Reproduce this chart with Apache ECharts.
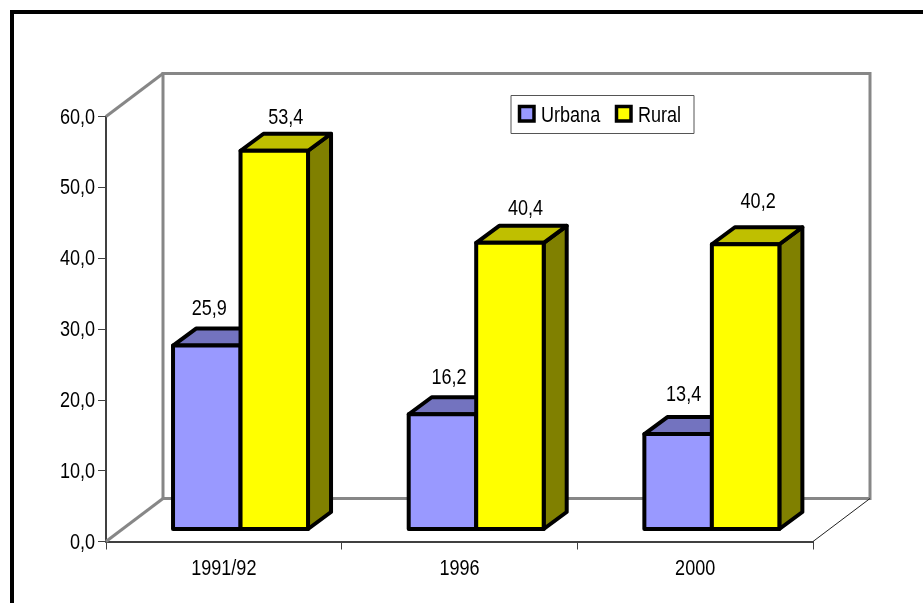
<!DOCTYPE html>
<html>
<head>
<meta charset="utf-8">
<style>
  html, body { margin: 0; padding: 0; background: #fff; }
  #chart { width: 923px; height: 603px; }
</style>
<script src="https://cdn.jsdelivr.net/npm/echarts@6/dist/echarts.min.js"></script>
</head>
<body>
<div id="chart"></div>
<script>
const categorias = ['1991/92', '1996', '2000'];
const urbana = [25.9, 16.2, 13.4];
const rural = [53.4, 40.4, 40.2];
const ticksY = [0, 10, 20, 30, 40, 50, 60];

// ajuste fino de etiquetas (en pixeles), no son datos
const ajusteUrbana = [[-9, -2], [-5, -1], [-6, -4]];
const ajusteRural = [[0, 2], [4, 1], [1, -7]];

// el original usa Arial comprimida, no hay fuente narrow instalada asi que se escala el texto
const FUENTE = '"Liberation Sans", Arial, sans-serif';
const TAM = 22;
const ESCALA = 0.82;
const ANCHO_BARRA = 67.5;
const PROF_X = 23, PROF_Y = -17;      // profundidad de la barra
const FONDO_X = 57, FONDO_Y = -43;    // profundidad de la caja
const DESP_X = 16.7, DESP_Y = -12.5;  // barra respecto al frente

const coma = (v) => v.toFixed(1).replace('.', ',');

const texto = (text, x, y, align) => ({
  type: 'text',
  x,
  y,
  scaleX: ESCALA,
  style: {
    text,
    font: TAM + 'px ' + FUENTE,
    fill: '#000',
    align,
    verticalAlign: 'middle'
  }
});

const barra3d = (lado, color, colorTop, colorLado, ajuste) => (params, api) => {
  const i = api.value(0);
  const v = api.value(1);
  const centro = api.coord([i, v]);
  const base = api.coord([i, 0]);
  const x0 = centro[0] + DESP_X + (lado === 0 ? -ANCHO_BARRA : 0);
  const x1 = x0 + ANCHO_BARRA;
  const yT = centro[1] + DESP_Y;
  const yB = base[1] + DESP_Y;
  const borde = { stroke: '#000', lineWidth: 4, lineJoin: 'round' };
  const cara = (puntos, fill) => ({
    type: 'polygon',
    shape: { points: puntos },
    style: Object.assign({ fill }, borde)
  });
  return {
    type: 'group',
    children: [
      cara([[x1, yT], [x1 + PROF_X, yT + PROF_Y], [x1 + PROF_X, yB + PROF_Y], [x1, yB]], colorLado),
      cara([[x0, yT], [x0 + PROF_X, yT + PROF_Y], [x1 + PROF_X, yT + PROF_Y], [x1, yT]], colorTop),
      cara([[x0, yT], [x1, yT], [x1, yB], [x0, yB]], color),
      texto(coma(v), (x0 + x1) / 2 + 11.5 + ajuste[i][0], yT + PROF_Y - 18 + ajuste[i][1], 'center')
    ]
  };
};

// paredes y piso de la caja, sacados de la escala de los ejes
const paredes = (params, api) => {
  const n = categorias.length;
  const a = api.coord([0, 60]);
  const b = api.coord([0, 0]);
  const ancho = api.size([1, 0])[0];
  const xI = a[0] - ancho / 2;
  const xD = xI + ancho * n;
  const yA = a[1];
  const yB = b[1];
  const gris = { stroke: '#878787', lineWidth: 3, fill: null, lineJoin: 'miter' };
  const linea = (x1, y1, x2, y2, style) => ({
    type: 'line',
    shape: { x1, y1, x2, y2 },
    style
  });
  return {
    type: 'group',
    children: [
      {
        type: 'rect',
        shape: { x: xI + FONDO_X, y: yA + FONDO_Y, width: xD - xI, height: yB - yA },
        style: gris
      },
      linea(xI, yA, xI + FONDO_X, yA + FONDO_Y, gris),
      linea(xI, yB, xI + FONDO_X, yB + FONDO_Y, gris),
      linea(xD, yB, xD + FONDO_X, yB + FONDO_Y, { stroke: '#222', lineWidth: 1 })
    ]
  };
};

const etiquetaX = (params, api) => {
  const p = api.coord([api.value(0), 0]);
  return texto(categorias[api.value(0)], p[0], p[1] + 27, 'center');
};

const etiquetaY = (params, api) => {
  const p = api.coord([0, api.value(1)]);
  return texto(coma(api.value(1)), p[0] - api.size([1, 0])[0] / 2 - 11, p[1] + 1, 'right');
};

const muestra = (x, y, fill) => ({
  type: 'rect',
  shape: { x, y, width: 14.5, height: 14.5 },
  style: { fill, stroke: '#000', lineWidth: 3.5 }
});

const chart = echarts.init(document.getElementById('chart'), null, { renderer: 'canvas' });

chart.setOption({
  animation: false,
  backgroundColor: '#fff',
  graphic: [
    {
      type: 'rect',
      silent: true,
      z: -1,
      shape: { x: 12, y: 12, width: 1000, height: 700 },
      style: { fill: null, stroke: '#000', lineWidth: 4 }
    },
    {
      type: 'group',
      silent: true,
      z: 10,
      children: [
        {
          type: 'rect',
          shape: { x: 511, y: 95.5, width: 183, height: 38 },
          style: { fill: '#fff', stroke: '#555', lineWidth: 1 }
        },
        muestra(519.5, 106.5, '#9999ff'),
        texto('Urbana', 541, 116, 'left'),
        muestra(616.5, 106.5, '#ffff00'),
        texto('Rural', 638, 116, 'left')
      ]
    }
  ],
  grid: { left: 106, top: 116.5, width: 707, height: 425 },
  xAxis: {
    type: 'category',
    data: categorias,
    axisLine: { lineStyle: { color: '#404040', width: 2 } },
    axisTick: { show: true, length: 8, lineStyle: { color: '#404040', width: 1 } },
    axisLabel: { show: false }
  },
  yAxis: {
    type: 'value',
    min: 0,
    max: 60,
    interval: 10,
    splitLine: { show: false },
    axisLine: { show: true, lineStyle: { color: '#404040', width: 2 } },
    axisTick: { show: true, length: 8, lineStyle: { color: '#404040', width: 1 } },
    axisLabel: { show: false }
  },
  series: [
    {
      name: 'caja',
      type: 'custom',
      z: 1,
      silent: true,
      renderItem: paredes,
      data: [[0, 0]],
      encode: { x: 0, y: 1 }
    },
    {
      name: 'Urbana',
      type: 'custom',
      z: 3,
      renderItem: barra3d(0, '#9999ff', '#7373bf', '#4d4d80', ajusteUrbana),
      data: urbana.map((v, i) => [i, v]),
      encode: { x: 0, y: 1 }
    },
    {
      name: 'Rural',
      type: 'custom',
      z: 4,
      renderItem: barra3d(1, '#ffff00', '#bfbf00', '#808000', ajusteRural),
      data: rural.map((v, i) => [i, v]),
      encode: { x: 0, y: 1 }
    },
    {
      name: 'etiquetasX',
      type: 'custom',
      z: 5,
      silent: true,
      renderItem: etiquetaX,
      data: categorias.map((c, i) => [i, 0]),
      encode: { x: 0, y: 1 }
    },
    {
      name: 'etiquetasY',
      type: 'custom',
      z: 5,
      silent: true,
      renderItem: etiquetaY,
      data: ticksY.map((v) => [0, v]),
      encode: { x: 0, y: 1 }
    }
  ]
});
</script>
</body>
</html>
